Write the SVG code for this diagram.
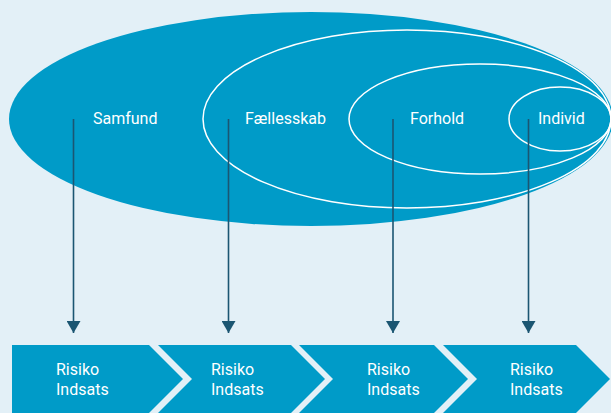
<svg xmlns="http://www.w3.org/2000/svg" width="611" height="413" viewBox="0 0 611 413">
<defs>
<style>
.lbl{font-family:Roboto,"Liberation Sans",sans-serif;font-size:16px;fill:#ffffff}
.ring{fill:none;stroke:#ffffff;stroke-width:1.5}
.chev{fill:#009bc8}
.conn{stroke:#1b5672;stroke-width:1.6;fill:none}
</style>
<marker id="ah" viewBox="0 0 12 14" refX="12" refY="7" markerWidth="12" markerHeight="14" markerUnits="userSpaceOnUse" orient="auto">
<path d="M0,0 L12,7 L0,14 Z" fill="#1b5672"/>
</marker>
</defs>
<rect width="611" height="413" fill="#e3f0f7"/>
<g id="samfund">
<ellipse cx="311" cy="119" rx="302" ry="107" fill="#009bc8"/>
<text class="lbl" x="93" y="124">Samfund</text>
</g>
<g id="faellesskab">
<ellipse class="ring" cx="407" cy="119" rx="204" ry="89"/>
<text class="lbl" x="245" y="124">Fællesskab</text>
</g>
<g id="forhold">
<ellipse class="ring" cx="480" cy="119" rx="131" ry="55"/>
<text class="lbl" x="410" y="124">Forhold</text>
</g>
<g id="individ">
<ellipse class="ring" cx="560" cy="119" rx="51" ry="32"/>
<text class="lbl" x="538" y="124">Individ</text>
</g>
<g id="connectors">
<line class="conn" x1="73.5" y1="119" x2="73.5" y2="333" marker-end="url(#ah)"/>
<line class="conn" x1="228.5" y1="119" x2="228.5" y2="333" marker-end="url(#ah)"/>
<line class="conn" x1="393" y1="119" x2="393" y2="333" marker-end="url(#ah)"/>
<line class="conn" x1="528.5" y1="119" x2="528.5" y2="333" marker-end="url(#ah)"/>
</g>
<g id="step1">
<polygon class="chev" points="12,345 149,345 183,379 149,413 12,413"/>
<text class="lbl" x="56" y="375">Risiko</text>
<text class="lbl" x="56" y="395">Indsats</text>
</g>
<g id="step2">
<polygon class="chev" points="158,345 291,345 325,379 291,413 158,413 192,379"/>
<text class="lbl" x="211" y="375">Risiko</text>
<text class="lbl" x="211" y="395">Indsats</text>
</g>
<g id="step3">
<polygon class="chev" points="299,345 434,345 468,379 434,413 299,413 333,379"/>
<text class="lbl" x="367" y="375">Risiko</text>
<text class="lbl" x="367" y="395">Indsats</text>
</g>
<g id="step4">
<polygon class="chev" points="443,345 576,345 610,379 576,413 443,413 477,379"/>
<text class="lbl" x="510" y="375">Risiko</text>
<text class="lbl" x="510" y="395">Indsats</text>
</g>
</svg>
